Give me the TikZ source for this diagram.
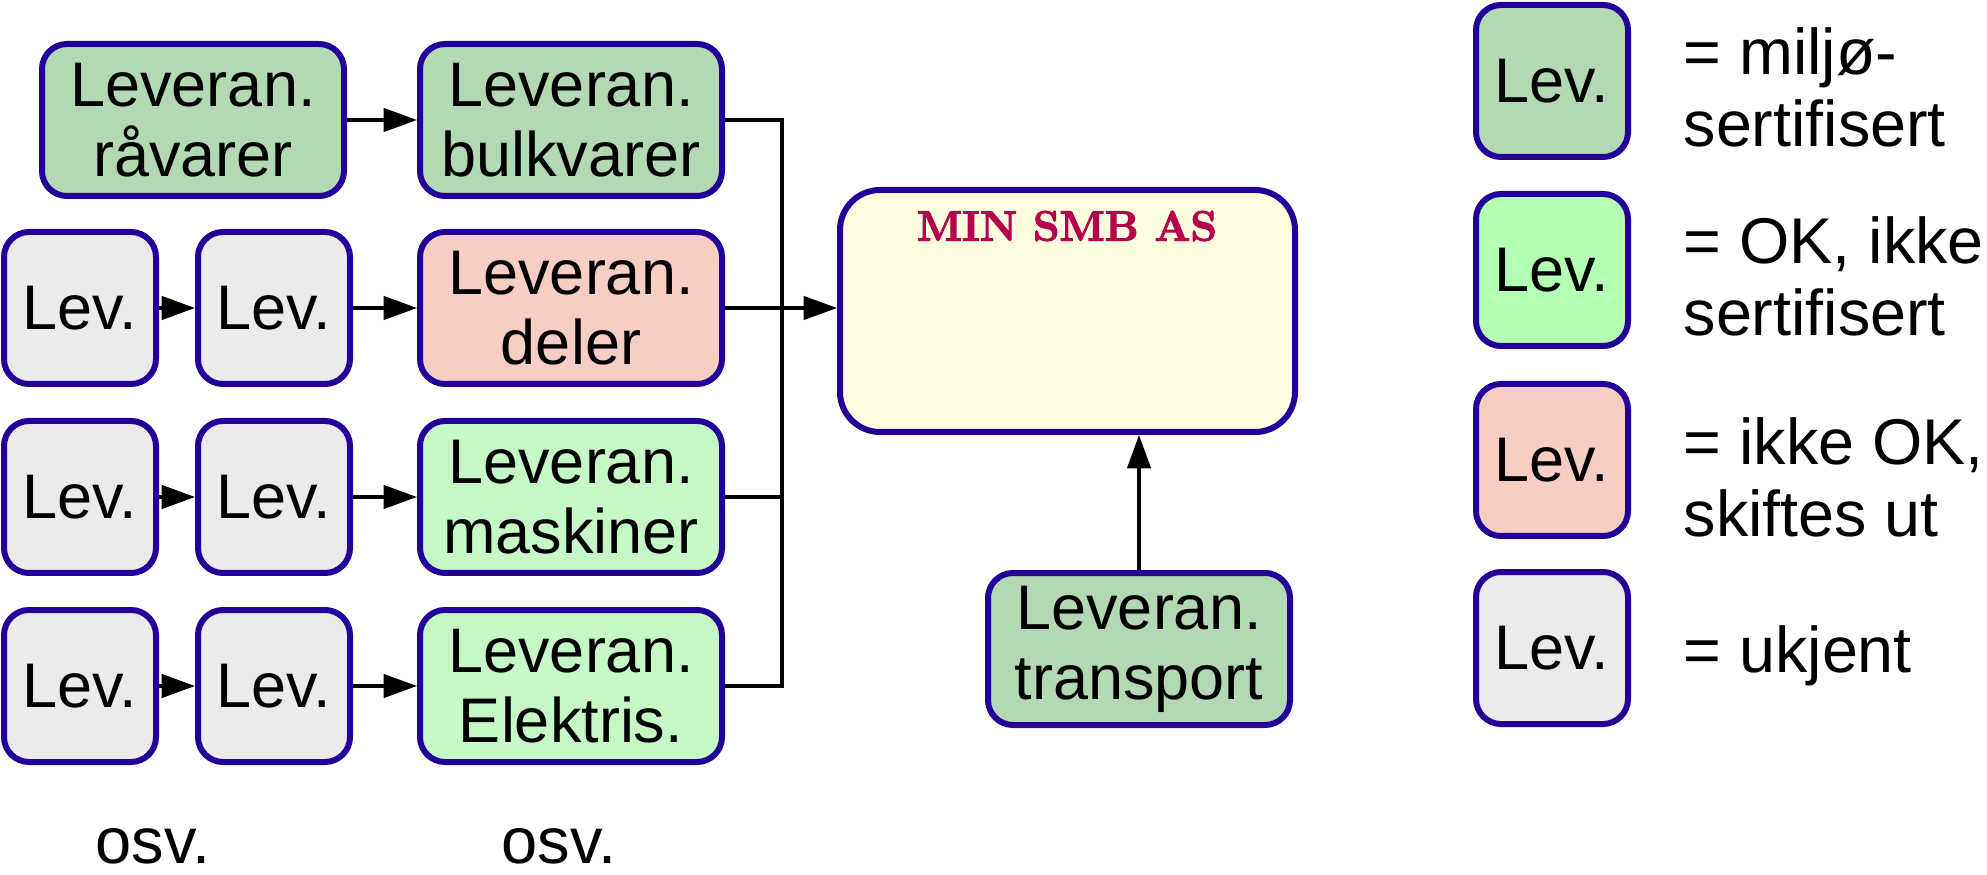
\documentclass[tikz,border=0pt]{standalone}
\usepackage{fontspec}
\newfontfamily\arial{Liberation Sans}
\usetikzlibrary{arrows.meta}
\definecolor{kant}{RGB}{34,0,153}
\definecolor{miljo}{RGB}{179,217,180}
\definecolor{okgronn}{RGB}{198,248,198}
\definecolor{okleg}{RGB}{180,255,180}
\definecolor{ikkeok}{RGB}{248,206,196}
\definecolor{ukjent}{RGB}{235,235,235}
\definecolor{firma}{RGB}{255,253,224}
\definecolor{tittel}{RGB}{181,0,75}
\newcommand{\tykk}[1]{\special{pdf:literal direct 2 Tr 0.35 w}#1\special{pdf:literal direct 0 Tr}}
\tikzset{
	lev/.style={draw=kant, line width=1.8pt, rounded corners=7.5pt, inner sep=0pt, align=center, font=\arial\fontsize{18.9}{21}\selectfont},
	stor/.style={lev, minimum width=90.6pt, minimum height=45.6pt},
	liten/.style={lev, minimum width=45.6pt, minimum height=45.6pt},
	pil/.style={line width=1pt, -{Triangle[length=10pt,width=7pt]}},
	linje/.style={line width=1pt},
	legtekst/.style={anchor=west, inner sep=0pt, align=left, font=\arial\fontsize{19.4}{21.6}\selectfont}
}
\begin{document}
\begin{tikzpicture}[x=0.3pt, y=-0.3pt]
				\useasboundingbox (0,0) rectangle (1987,875);
				
				\node[stor, fill=miljo] (ravarer) at (193,120) {Leveran.\\råvarer};
				\node[stor, fill=miljo] (bulk) at (571,120) {Leveran.\\bulkvarer};
				
				\node[liten, fill=ukjent] (a1) at (80,308) {Lev.};
				\node[liten, fill=ukjent] (a2) at (274,308) {Lev.};
				\node[stor, fill=ikkeok] (deler) at (571,308) {Leveran.\\deler};
				
				\node[liten, fill=ukjent] (b1) at (80,497) {Lev.};
				\node[liten, fill=ukjent] (b2) at (274,497) {Lev.};
				\node[stor, fill=okgronn] (maskin) at (571,497) {Leveran.\\maskiner};
				
				\node[liten, fill=ukjent] (c1) at (80,686) {Lev.};
				\node[liten, fill=ukjent] (c2) at (274,686) {Lev.};
				\node[stor, fill=okgronn] (elektro) at (571,686) {Leveran.\\Elektris.};
				
				\node[font=\arial\fontsize{19.5}{22}\selectfont, inner sep=0pt] (osv1) at (153,846) {osv.};
				\node[font=\arial\fontsize{19.5}{22}\selectfont, inner sep=0pt] (osv2) at (559,846) {osv.};
				
				\node[draw=kant, line width=1.8pt, fill=firma, rounded corners=12pt, minimum width=136.5pt, minimum height=72.6pt] (smb) at (1067.5,311) {};
				\node[text=tittel, inner sep=0pt, font=\fontsize{12.7}{15}\selectfont\bfseries] (navn) at (1067,226) {\tykk{MIN SMB AS}};
				
				\node[stor, fill=miljo] (transp) at (1139,649) {Leveran.\\transport};
				
				\coordinate (buss1) at (782,120);
				\coordinate (buss2) at (782,686);
				
				\draw[pil] (ravarer) -- (bulk);
				\draw[pil] (a1) -- (a2);
				\draw[pil] (a2) -- (deler);
				\draw[pil] (b1) -- (b2);
				\draw[pil] (b2) -- (maskin);
				\draw[pil] (c1) -- (c2);
				\draw[pil] (c2) -- (elektro);
				
				\draw[linje] (bulk.east) -- (buss1) -- (buss2) -- (elektro.east);
				\draw[linje] (deler.east) -- (deler.east -| buss1);
				\draw[linje] (maskin.east) -- (maskin.east -| buss1);
				\draw[pil] (deler.east -| buss1) -- (deler.east -| smb.west);
				\draw[pil] (transp.north) -- (transp.north |- smb.south);
				
				\node[liten, fill=miljo] (leg1) at (1552,81) {Lev.};
				\node[liten, fill=okleg] (leg2) at (1552,270) {Lev.};
				\node[liten, fill=ikkeok] (leg3) at (1552,460) {Lev.};
				\node[liten, fill=ukjent] (leg4) at (1552,648) {Lev.};
				
				\node[legtekst] (tekst1) at (1683,87) {= miljø-\\sertifisert};
				\node[legtekst] (tekst2) at (1683,276) {= OK, ikke\\sertifisert};
				\node[legtekst] (tekst3) at (1683,477) {= ikke OK,\\skiftes ut};
				\node[legtekst] (tekst4) at (1683,656) {= ukjent};
			\end{tikzpicture}
\end{document}
